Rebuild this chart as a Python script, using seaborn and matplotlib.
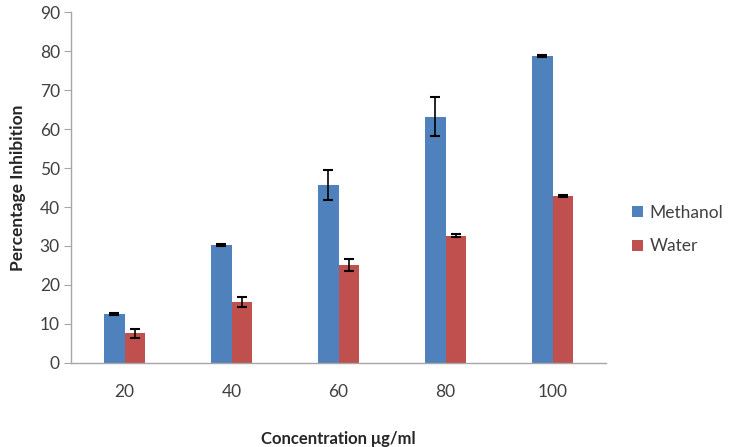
import matplotlib
matplotlib.use('Agg')
import matplotlib.pyplot as plt
import seaborn as sns
import pandas as pd

# Data
concentrations = ['20', '40', '60', '80', '100']
methanol = [12.6, 30.2, 45.7, 63.2, 78.8]
methanol_err = [0.3, 0.3, 3.8, 5.0, 0.3]
water = [7.6, 15.6, 25.2, 32.6, 42.9]
water_err = [1.2, 1.3, 1.5, 0.4, 0.3]
series = ['Methanol', 'Water']

df = pd.DataFrame({
    'Concentration': concentrations * 2,
    'Inhibition': methanol + water,
    'Err': methanol_err + water_err,
    'Extract': ['Methanol'] * 5 + ['Water'] * 5,
})

sns.set_style('white')
plt.rcParams['font.family'] = ['Lato', 'DejaVu Sans']

fig = plt.figure(figsize=(7.32, 4.47), dpi=100)
ax = fig.add_axes([0.097, 0.188, 0.731, 0.785])

sns.barplot(data=df, x='Concentration', y='Inhibition', hue='Extract',
            hue_order=series, order=concentrations,
            palette=['#4F81BD', '#C0504D'], width=0.39, gap=0,
            errorbar=None, saturation=1, linewidth=0, ax=ax)

# error bars placed on the bar centres
for cont, name in zip(ax.containers, series):
    errs = df[df['Extract'] == name]['Err'].values
    xs = [p.get_x() + p.get_width() / 2 for p in cont.patches]
    hs = [p.get_height() for p in cont.patches]
    ax.errorbar(xs, hs, yerr=errs, fmt='none', ecolor='black',
                elinewidth=1.2, capsize=3.5, capthick=1.5)

ax.set_ylim(0, 90)
ax.set_yticks(range(0, 91, 10))
ax.set_xlim(-0.5, 4.5)

for s in ['top', 'right']:
    ax.spines[s].set_visible(False)
for s in ['left', 'bottom']:
    ax.spines[s].set_color('#A6A6A6')
    ax.spines[s].set_linewidth(1)

ax.tick_params(axis='y', which='both', left=True, length=5, color='#A6A6A6',
               labelsize=12.5, labelcolor='#404040', pad=3)
ax.tick_params(axis='x', bottom=False, labelsize=12.5, labelcolor='#404040', pad=12)

ax.set_xlabel('Concentration μg/ml', fontsize=12, fontweight='bold', labelpad=22)
ax.set_ylabel('Percentage Inhibition', fontsize=12.5, fontweight='bold', labelpad=10)

leg = ax.legend(loc='center left', bbox_to_anchor=(1.02, 0.38), frameon=False,
                fontsize=12.5, handlelength=0.6, handleheight=0.6,
                handletextpad=0.4, labelspacing=1.0)
for t in leg.get_texts():
    t.set_color('#404040')

fig.savefig('out.png', dpi=100)
